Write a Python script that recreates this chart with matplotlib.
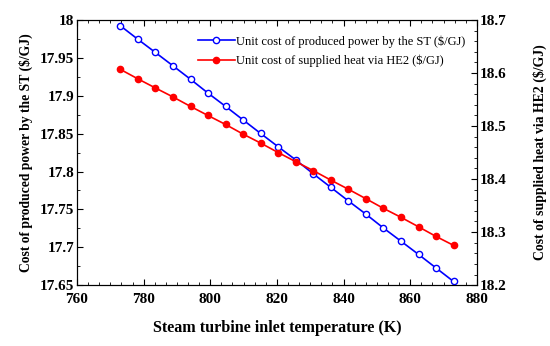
import matplotlib.pyplot as plt
from matplotlib.ticker import AutoMinorLocator, MultipleLocator

plt.rcParams['font.family'] = ['Liberation Serif', 'DejaVu Serif']

# steam turbine inlet temperature (K)
temperature = [773.0, 778.3, 783.5, 788.8, 794.1, 799.3, 804.6, 809.8, 815.1, 820.4,
               825.6, 830.9, 836.2, 841.4, 846.7, 851.9, 857.2, 862.5, 867.7, 873.0]

# unit cost of produced power by the ST ($/GJ), left axis
power_cost = [17.9925, 17.9745, 17.9573, 17.9396, 17.9217, 17.9036, 17.8860, 17.8683,
              17.8503, 17.8326, 17.8155, 17.7970, 17.7790, 17.7613, 17.7437, 17.7256,
              17.7081, 17.6905, 17.6728, 17.6548]

# unit cost of supplied heat via HE2 ($/GJ), right axis
heat_cost = [18.607, 18.589, 18.572, 18.555, 18.537, 18.520, 18.503, 18.485, 18.468,
             18.450, 18.433, 18.416, 18.398, 18.381, 18.363, 18.345, 18.328, 18.310,
             18.292, 18.275]

left_ticks = [17.65, 17.7, 17.75, 17.8, 17.85, 17.9, 17.95, 18.0]
left_labels = ['17.65', '17.7', '17.75', '17.8', '17.85', '17.9', '17.95', '18']

fig = plt.figure(figsize=(5.5, 3.46), dpi=100)
ax = fig.add_axes([0.14, 0.176, 0.727, 0.766])
ax2 = ax.twinx()

l1, = ax.plot(temperature, power_cost, color='blue', lw=1.2, marker='o', ms=4.5,
              mfc='white', mec='blue', mew=1.0,
              label='Unit cost of produced power by the ST ($/GJ)')
l2, = ax2.plot(temperature, heat_cost, color='red', lw=1.2, marker='o', ms=4.5,
               mfc='red', mec='red',
               label='Unit cost of supplied heat via HE2 ($/GJ)')

ax.set_xlim(760, 880)
ax.set_ylim(17.65, 18.0)
ax2.set_ylim(18.2, 18.7)

ax.xaxis.set_major_locator(MultipleLocator(20))
ax.xaxis.set_minor_locator(AutoMinorLocator(6))
ax.set_yticks(left_ticks)
ax.set_yticklabels(left_labels)
ax.yaxis.set_minor_locator(AutoMinorLocator(2))
ax2.yaxis.set_major_locator(MultipleLocator(0.1))
ax2.yaxis.set_minor_locator(AutoMinorLocator(5))

ax.tick_params(axis='both', which='both', direction='in', top=True, labelsize=11)
ax.tick_params(which='major', length=4, pad=2)
ax.tick_params(which='minor', length=2)
ax.tick_params(axis='x', pad=6)
ax2.tick_params(which='both', direction='in', labelsize=11)
ax2.tick_params(which='major', length=4, pad=2)
ax2.tick_params(which='minor', length=2)
for lab in ax.get_xticklabels() + ax.get_yticklabels() + ax2.get_yticklabels():
    lab.set_fontweight('bold')

ax.set_xlabel('Steam turbine inlet temperature (K)', fontsize=11.6, fontweight='bold',
              labelpad=10)
ax.set_ylabel('Cost of produced power by the ST ($/GJ)', fontsize=9.8, fontweight='bold',
              labelpad=5)
ax2.set_ylabel('Cost of supplied heat via HE2 ($/GJ)', fontsize=9.9, fontweight='bold',
               labelpad=19)

ax.legend([l1, l2], [l1.get_label(), l2.get_label()], loc='upper right',
          frameon=False, fontsize=9, handlelength=3.0, handletextpad=0.1,
          bbox_to_anchor=(1.0, 0.985), labelspacing=0.55)

fig.savefig('out.png', dpi=100)
